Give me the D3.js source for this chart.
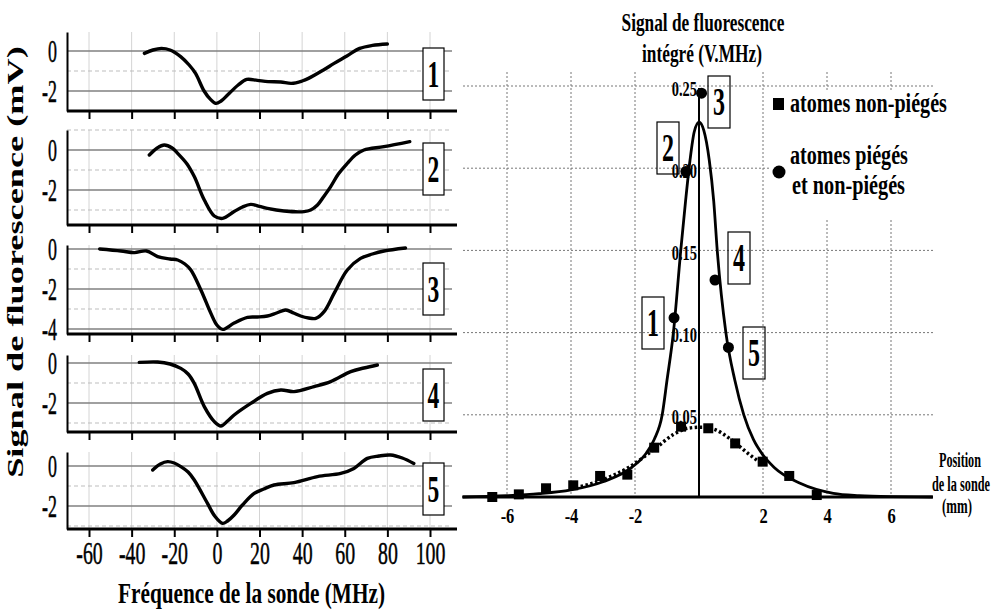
<!DOCTYPE html>
<html><head><meta charset="utf-8">
<script src="https://cdn.jsdelivr.net/npm/d3@7"></script>
<style>body{margin:0;background:#fff}</style>
</head><body><svg id="c" width="992" height="610"></svg>
<script>
// ---------- DATA ----------
const freqTicks = [-60, -40, -20, 0, 20, 40, 60, 80, 100];
const panelNames = ["1", "2", "3", "4", "5"];
const panelValueTicks = [[0, -2], [0, -2], [0, -2, -4], [0, -2], [0, -2]];
// [frequency MHz, signal mV]
const spectrum1 = [[-34,-0.12],[-30,0.05],[-26,0.13],[-22,0.05],[-17,-0.28],[-13,-0.7],[-10,-1.12],[-6,-2.0],[-3,-2.42],[-0.5,-2.62],[2,-2.5],[5,-2.2],[10,-1.7],[14,-1.42],[19,-1.47],[24,-1.53],[30,-1.55],[35,-1.62],[40,-1.5],[43,-1.37],[50,-0.95],[55,-0.62],[61,-0.25],[67,0.13],[73,0.28],[80,0.35]];
const spectrum2 = [[-31.7,-0.25],[-28,0.1],[-24.7,0.25],[-21,0.1],[-18.4,-0.17],[-14,-0.7],[-10.6,-1.33],[-5.9,-2.5],[-1.2,-3.3],[2.7,-3.42],[8.1,-3.08],[12,-2.85],[15.9,-2.72],[20,-2.82],[23.7,-2.92],[31.5,-3.05],[40.9,-3.08],[44,-3.0],[47.2,-2.75],[50,-2.35],[53.4,-1.83],[57,-1.2],[61.2,-0.67],[65,-0.25],[69,0],[78.4,0.17],[90.5,0.42]];
const spectrum3 = [[-55,0],[-45,-0.1],[-38.7,-0.18],[-33,-0.1],[-27.8,-0.38],[-22,-0.5],[-18.4,-0.55],[-15,-0.75],[-12.2,-1.05],[-7.5,-2.05],[-2.8,-3.22],[0,-3.8],[2.7,-4.02],[8.1,-3.7],[14.4,-3.42],[19,-3.4],[23.7,-3.35],[28,-3.2],[32.3,-3.05],[36,-3.2],[39.3,-3.35],[43,-3.45],[46.4,-3.47],[50.3,-3.13],[55,-2.22],[61.2,-1.05],[67.4,-0.47],[73,-0.25],[78.4,-0.1],[88.5,0.05]];
const spectrum4 = [[-36.4,0.03],[-27.8,0.05],[-22,-0.05],[-16.9,-0.27],[-13.5,-0.55],[-10.6,-1.02],[-5.9,-2.18],[-1.2,-2.93],[1.9,-3.15],[5,-2.9],[8.1,-2.6],[15.9,-2.02],[23.7,-1.52],[30,-1.35],[36.2,-1.43],[45.6,-1.18],[53.4,-0.93],[62.8,-0.43],[69,-0.25],[75.3,-0.1]];
const spectrum5 = [[-30.1,-0.2],[-26.5,0.1],[-23.1,0.22],[-20,0.15],[-16.9,-0.03],[-13.5,-0.3],[-10.6,-0.7],[-4.4,-1.87],[-1,-2.5],[2.7,-2.87],[5,-2.75],[8.1,-2.45],[12,-1.95],[17.5,-1.37],[22,-1.15],[26.8,-0.95],[36.2,-0.83],[47.2,-0.53],[58.1,-0.37],[64.3,-0.12],[70.6,0.38],[76,0.5],[81.5,0.55],[87,0.4],[92.4,0.13]];

const positionTicks = [-6, -4, -2, 2, 4, 6];
const integratedTicks = [0.05, 0.10, 0.15, 0.20, 0.25];
// trapped + untrapped atoms (circles)
const trappedPos = [0.08, -0.41, -0.78, 0.5, 0.92];
const trappedSig = [0.2456, 0.198, 0.109, 0.132, 0.091];
const trappedLabels = ["3", "2", "1", "4", "5"];
// untrapped atoms (squares)
const untrappedPos = [-6.46, -5.63, -4.78, -3.93, -3.09, -2.24, -1.40, -0.56, 0.29, 1.13, 1.99, 2.82, 3.68];
const untrappedSig = [0.000, 0.0016, 0.0053, 0.0071, 0.0128, 0.0136, 0.030, 0.0428, 0.0418, 0.0326, 0.0215, 0.0128, 0.0012];
// fitted curves [position mm, signal]
const fitTrapped = [[-7.4,0],[-6,0.0008],[-5,0.002],[-4,0.0043],[-3,0.0093],[-2.1,0.018],[-1.65,0.0266],[-1.4,0.035],[-1.15,0.05],[-1.0,0.071],[-0.8,0.10],[-0.57,0.15],[-0.42,0.18],[-0.28,0.205],[-0.15,0.222],[0,0.228],[0.15,0.223],[0.32,0.205],[0.46,0.18],[0.57,0.15],[0.84,0.10],[1.12,0.071],[1.4,0.05],[1.7,0.035],[2.0,0.0255],[2.35,0.018],[3.16,0.0083],[4.2,0.0022],[5,0.0008],[6,0.0002],[7.3,0]];
const fitUntrapped = [[-4,0.005],[-3,0.0105],[-2.2,0.018],[-1.4,0.029],[-0.8,0.038],[-0.3,0.042],[0.1,0.0425],[0.5,0.041],[1.0,0.035],[1.5,0.027],[2.0,0.0195]];

// ---------- DRAWING ----------
const svg = d3.select("#c");
const SERIF = "'Liberation Serif','Times New Roman',Times,serif";

function txt(parent, s, x, y, o) {
  const t = parent.append("text").text(s)
    .style("font-family", SERIF).style("font-size", o.size + "px")
    .style("font-weight", o.bold ? "bold" : "normal")
    .attr("text-anchor", o.anchor || "middle").attr("fill", "#000");
  let sx = o.sx || 1;
  if (o.width) sx = o.width / t.node().getComputedTextLength();
  t.attr("transform", `translate(${x},${y})` + (o.rotate ? ` rotate(${o.rotate})` : "") + ` scale(${sx},1)`);
  return t;
}
function styleText(sel, size, bold) {
  sel.style("font-family", SERIF).style("font-size", size + "px")
    .style("font-weight", bold ? "bold" : "normal").attr("fill", "#000");
}

// ----- left panels -----
const xF = d3.scaleLinear().domain([-60, 100]).range([89, 430]);
const panelLayout = [
  {top: 32, bottom: 111, vTop: 0.95, vBot: -3, boxY: 48},
  {top: 130, bottom: 225, vTop: 1, vBot: -3.75, boxY: 143},
  {top: 245, bottom: 334, vTop: 0.2, vBot: -4.25, boxY: 263},
  {top: 355, bottom: 432, vTop: 0.4, vBot: -3.45, boxY: 369},
  {top: 452, bottom: 529, vTop: 0.7, vBot: -3.15, boxY: 463}
];
const spectra = [spectrum1, spectrum2, spectrum3, spectrum4, spectrum5];

panelLayout.forEach((p, i) => {
  const y = d3.scaleLinear().domain([p.vTop, p.vBot]).range([p.top, p.bottom]);
  const g = svg.append("g");
  g.selectAll(".vg").data(freqTicks).join("line")
    .attr("x1", d => xF(d)).attr("x2", d => xF(d))
    .attr("y1", p.top).attr("y2", p.bottom)
    .attr("stroke", "#d4d4d4").attr("stroke-width", 1);
  const levels = d3.range(Math.ceil(p.vBot), Math.floor(p.vTop) + 1).filter(v => y(v) < p.bottom - 2);
  g.selectAll(".hg").data(levels).join("line")
    .attr("x1", 67).attr("x2", 452)
    .attr("y1", d => y(d)).attr("y2", d => y(d))
    .attr("stroke", d => d % 2 === 0 ? "#808080" : "#bdbdbd")
    .attr("stroke-width", d => d % 2 === 0 ? 1.3 : 1.2)
    .attr("stroke-dasharray", d => d % 2 === 0 ? null : "4,3");

  // left axis
  const sy = 0.56;
  const ay = d3.axisLeft(y).tickValues(panelValueTicks[i]).tickSize(0).tickSizeOuter(0).tickPadding(10).tickFormat(d => String(d));
  const ayg = g.append("g").attr("transform", "translate(67,0)").call(ay);
  ayg.select(".domain").attr("stroke", "#000").attr("stroke-width", 2);
  const yt = ayg.selectAll("text");
  styleText(yt, 32, false);
  yt.attr("x", -10 / sy).attr("dy", "0.34em").attr("transform", `scale(${sy},1)`)
    .attr("stroke", "#000").attr("stroke-width", 0.5);

  // bottom axis
  g.append("line").attr("x1", 67).attr("x2", 457).attr("y1", p.bottom).attr("y2", p.bottom)
    .attr("stroke", "#000").attr("stroke-width", 3);
  const ax = d3.axisBottom(xF).tickValues(freqTicks).tickSize(8).tickSizeOuter(0).tickPadding(4)
    .tickFormat(i === 4 ? (d => String(d)) : "");
  const axg = g.append("g").attr("transform", `translate(0,${p.bottom})`).call(ax);
  axg.select(".domain").remove();
  axg.selectAll(".tick line").attr("stroke", "#000").attr("stroke-width", 2);
  const xt = axg.selectAll("text");
  styleText(xt, 32, false);
  xt.attr("transform", "scale(0.62,1)").attr("stroke", "#000").attr("stroke-width", 0.5);

  // curve
  const line = d3.line().x(d => xF(d[0])).y(d => y(d[1])).curve(d3.curveCatmullRom.alpha(0.5));
  g.append("path").datum(spectra[i]).attr("d", line).attr("fill", "none")
    .attr("stroke", "#000").attr("stroke-width", 3.4)
    .attr("stroke-linejoin", "round").attr("stroke-linecap", "round");

  // label box
  g.append("rect").attr("x", 423).attr("y", p.boxY).attr("width", 21).attr("height", 52)
    .attr("fill", "#fff").attr("stroke", "#000").attr("stroke-width", 1.2);
  txt(g, panelNames[i], 433.5, p.boxY + 39, {size: 38, bold: true, sx: 0.62});
});

txt(svg, "Signal de fluorescence (mV)", 23, 262, {size: 23, bold: true, rotate: -90, width: 432});
txt(svg, "Fréquence de la sonde (MHz)", 251.5, 603, {size: 30, bold: true, width: 267});

// ----- right chart -----
const xP = d3.scaleLinear().domain([-6, 6]).range([507, 891]);
const yS = d3.scaleLinear().domain([0, 0.25]).range([497, 86]);
const R = svg.append("g");

R.selectAll(".hg").data(integratedTicks).join("line")
  .attr("x1", 463).attr("x2", 933).attr("y1", d => yS(d)).attr("y2", d => yS(d))
  .attr("stroke", "#777").attr("stroke-width", 1).attr("stroke-dasharray", "2,2");
R.selectAll(".vg").data(positionTicks).join("line")
  .attr("x1", d => xP(d)).attr("x2", d => xP(d)).attr("y1", 72).attr("y2", 497)
  .attr("stroke", "#777").attr("stroke-width", 1).attr("stroke-dasharray", "2,2");
// legend background
R.append("rect").attr("x", 770).attr("y", 92).attr("width", 222).attr("height", 126).attr("fill", "#fff");

// axes
R.append("line").attr("x1", 463).attr("x2", 933).attr("y1", yS(0)).attr("y2", yS(0))
  .attr("stroke", "#000").attr("stroke-width", 3);
R.append("line").attr("x1", xP(0)).attr("x2", xP(0)).attr("y1", 88).attr("y2", yS(0))
  .attr("stroke", "#000").attr("stroke-width", 2);

const axB = d3.axisBottom(xP).tickValues(positionTicks).tickSize(0).tickPadding(10).tickFormat(d => String(d));
const axBg = R.append("g").attr("transform", `translate(0,${yS(0)})`).call(axB);
axBg.select(".domain").remove();
const bt = axBg.selectAll("text");
styleText(bt, 22, true);
bt.attr("transform", "scale(0.75,1)");

const axL = d3.axisLeft(yS).tickValues(integratedTicks).tickSize(0).tickPadding(2).tickFormat(d3.format(".2f"));
const axLg = R.append("g").attr("transform", `translate(${xP(0)},0)`).call(axL);
axLg.select(".domain").remove();
const lt = axLg.selectAll("text");
styleText(lt, 20, true);
lt.attr("x", -2 / 0.72).attr("dy", "0.45em").attr("transform", "scale(0.72,1)");

// fitted curves
const lineP = d3.line().x(d => xP(d[0])).y(d => yS(d[1])).curve(d3.curveMonotoneX);
R.append("path").datum(fitTrapped).attr("d", lineP).attr("fill", "none")
  .attr("stroke", "#000").attr("stroke-width", 2.8).attr("stroke-linejoin", "round");
R.append("path").datum(fitUntrapped).attr("d", lineP).attr("fill", "none")
  .attr("stroke", "#000").attr("stroke-width", 3.5).attr("stroke-dasharray", "2.5,2.5");

// points
R.selectAll(".sq").data(untrappedPos).join("rect")
  .attr("x", d => xP(d) - 5).attr("y", (d, i) => yS(untrappedSig[i]) - 5)
  .attr("width", 10).attr("height", 10).attr("fill", "#000");
R.selectAll(".ci").data(trappedPos).join("circle")
  .attr("cx", d => xP(d)).attr("cy", (d, i) => yS(trappedSig[i])).attr("r", 5.5).attr("fill", "#000");

// number boxes
const rightBoxes = [{x: 708, y: 76}, {x: 657, y: 122}, {x: 642, y: 297}, {x: 728, y: 232}, {x: 743, y: 327}];
rightBoxes.forEach((b, i) => {
  R.append("rect").attr("x", b.x).attr("y", b.y).attr("width", 22).attr("height", 52)
    .attr("fill", "none").attr("stroke", "#000").attr("stroke-width", 1.2);
  txt(R, trappedLabels[i], b.x + 11, b.y + 39, {size: 40, bold: true, sx: 0.6});
});

// titles
txt(R, "Signal de fluorescence", 703, 31, {size: 25, bold: true, width: 163});
txt(R, "intégré (V.MHz)", 702, 62, {size: 25, bold: true, width: 120});

// legend
R.append("rect").attr("x", 773).attr("y", 98).attr("width", 11).attr("height", 12).attr("fill", "#000");
txt(R, "atomes non-piégés", 790, 112, {size: 27, bold: true, anchor: "start", width: 157});
R.append("circle").attr("cx", 779).attr("cy", 172).attr("r", 6.5).attr("fill", "#000");
txt(R, "atomes piégés", 790, 164, {size: 27, bold: true, anchor: "start", width: 118});
txt(R, "et non-piégés", 792, 194, {size: 27, bold: true, anchor: "start", width: 113});

// x-axis title
txt(R, "Position", 960, 467, {size: 21, bold: true, width: 42});
txt(R, "de la sonde", 961, 491, {size: 21, bold: true, width: 58});
txt(R, "(mm)", 957, 513, {size: 21, bold: true, width: 30});
</script>
</body></html>
